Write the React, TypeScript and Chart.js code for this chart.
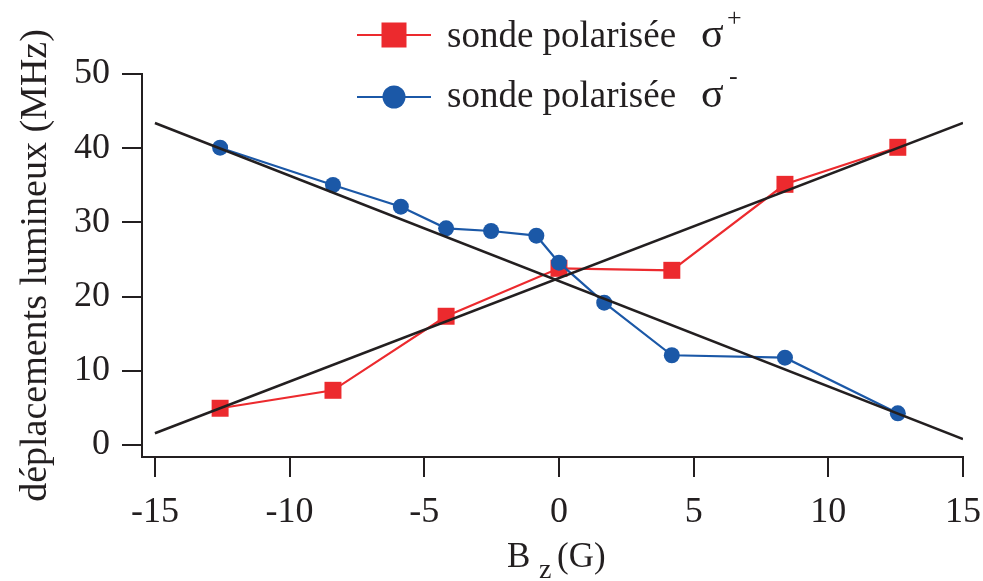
import React, { useEffect, useRef } from "react";
import { Chart, registerables } from "chart.js";

Chart.register(...registerables);

// Data
const sigmaPlusX = [-12.58, -8.39, -4.19, 0, 4.19, 8.39, 12.58];
const sigmaPlusY = [4.95, 7.37, 17.35, 23.81, 23.54, 35.13, 40.12];

const sigmaMinusX = [-12.58, -8.39, -5.87, -4.19, -2.52, -0.84, 0, 1.68, 4.19, 8.39, 12.58];
const sigmaMinusY = [40.07, 35.04, 32.12, 29.2, 28.84, 28.21, 24.57, 19.18, 12.09, 11.77, 4.27];

const fitX = [-15, 15];
const fitPlusY = [1.58, 43.4];
const fitMinusY = [43.4, 0.81];

const xTicks = [-15, -10, -5, 0, 5, 10, 15];
const yTicks = [0, 10, 20, 30, 40, 50];

const legendLabel = "sonde polarisée";
const xTitle = "B";
const xTitleSub = "z";
const xTitleUnit = "(G)";
const yTitle = "déplacements lumineux (MHz)";

const RED = "#ec2a2e";
const BLUE = "#1b58a7";
const BLACK = "#231f20";
const SERIF = "'Liberation Serif', 'Times New Roman', serif";

const zip = (xs: number[], ys: number[]) => xs.map((x, i) => ({ x, y: ys[i] }));

const overlayPlugin = {
  id: "overlay",
  afterDraw(chart: any) {
    const ctx = chart.ctx as CanvasRenderingContext2D;
    ctx.save();
    ctx.fillStyle = BLACK;
    ctx.textBaseline = "alphabetic";

    // Legend row 1
    ctx.strokeStyle = RED;
    ctx.lineWidth = 2;
    ctx.beginPath();
    ctx.moveTo(357, 35);
    ctx.lineTo(431, 35);
    ctx.stroke();
    ctx.fillStyle = RED;
    ctx.fillRect(394 - 12.5, 35 - 12.5, 25, 25);

    // Legend row 2
    ctx.strokeStyle = BLUE;
    ctx.beginPath();
    ctx.moveTo(357, 97);
    ctx.lineTo(431, 97);
    ctx.stroke();
    ctx.fillStyle = BLUE;
    ctx.beginPath();
    ctx.arc(394, 97, 11.5, 0, Math.PI * 2);
    ctx.fill();

    ctx.fillStyle = BLACK;
    ctx.textAlign = "left";
    ctx.font = `37px ${SERIF}`;
    ctx.fillText(legendLabel, 447, 47);
    ctx.fillText(legendLabel, 447, 107);
    ctx.font = `42px ${SERIF}`;
    ctx.fillText("σ", 701, 47);
    ctx.fillText("σ", 701, 107);
    ctx.font = `26px ${SERIF}`;
    ctx.fillText("+", 727, 26);
    ctx.fillText("-", 729, 84);

    // X title
    ctx.font = `35px ${SERIF}`;
    ctx.fillText(xTitle, 507, 567);
    ctx.font = `28px ${SERIF}`;
    ctx.fillText(xTitleSub, 539, 578);
    ctx.font = `35px ${SERIF}`;
    ctx.fillText(xTitleUnit, 557, 567);

    // Y title
    ctx.translate(46, 265.5);
    ctx.rotate(-Math.PI / 2);
    ctx.textAlign = "center";
    ctx.font = `38px ${SERIF}`;
    ctx.fillText(yTitle, 0, 0);
    ctx.restore();
  },
};

export default function App() {
  const ref = useRef<HTMLCanvasElement | null>(null);

  useEffect(() => {
    document.body.style.margin = "0";
    const canvas = ref.current;
    if (!canvas) return;
    const chart = new Chart(canvas, {
      type: "scatter",
      data: {
        datasets: [
          {
            label: "fit +",
            data: zip(fitX, fitPlusY),
            showLine: true,
            borderColor: BLACK,
            borderWidth: 2.5,
            pointRadius: 0,
          },
          {
            label: "fit -",
            data: zip(fitX, fitMinusY),
            showLine: true,
            borderColor: BLACK,
            borderWidth: 2.5,
            pointRadius: 0,
          },
          {
            label: "sonde polarisée σ-",
            data: zip(sigmaMinusX, sigmaMinusY),
            showLine: true,
            borderColor: BLUE,
            backgroundColor: BLUE,
            borderWidth: 2.2,
            pointStyle: "circle",
            pointRadius: 8,
            pointBorderWidth: 0,
          },
          {
            label: "sonde polarisée σ+",
            data: zip(sigmaPlusX, sigmaPlusY),
            showLine: true,
            borderColor: RED,
            backgroundColor: RED,
            borderWidth: 2.2,
            pointStyle: "rect",
            pointRadius: 12,
            pointBorderWidth: 0,
          },
        ],
      },
      options: {
        responsive: false,
        animation: false,
        layout: { padding: { top: 74, right: 20, bottom: 0, left: 0 } },
        plugins: { legend: { display: false }, tooltip: { enabled: false } },
        scales: {
          x: {
            type: "linear",
            min: -15.48,
            max: 15,
            afterBuildTicks: (scale: any) => {
              scale.ticks = xTicks.map((v) => ({ value: v }));
            },
            afterFit: (scale: any) => {
              scale.height = 124;
              scale.paddingLeft = 0;
              scale.paddingRight = 0;
            },
            grid: {
              drawOnChartArea: false,
              drawTicks: true,
              tickLength: 20,
              color: BLACK,
              lineWidth: 2,
            },
            border: { display: true, color: BLACK, width: 2 },
            ticks: {
              autoSkip: false,
              maxRotation: 0,
              padding: 14,
              color: BLACK,
              font: { family: SERIF, size: 36 },
            },
          },
          y: {
            type: "linear",
            min: -1.62,
            max: 50,
            afterBuildTicks: (scale: any) => {
              scale.ticks = yTicks.map((v) => ({ value: v }));
            },
            afterFit: (scale: any) => {
              scale.width = 142;
              scale.paddingTop = 0;
              scale.paddingBottom = 0;
            },
            grid: {
              drawOnChartArea: false,
              drawTicks: true,
              tickLength: 20,
              color: BLACK,
              lineWidth: 2,
            },
            border: { display: true, color: BLACK, width: 2 },
            ticks: {
              autoSkip: false,
              padding: 12,
              color: BLACK,
              font: { family: SERIF, size: 36 },
            },
          },
        },
      },
      plugins: [overlayPlugin],
    } as any);
    return () => chart.destroy();
  }, []);

  return (
    <div style={{ position: "fixed", left: 0, top: 0, width: 983, height: 581, background: "#fff" }}>
      <canvas ref={ref} width={983} height={581} style={{ display: "block" }} />
    </div>
  );
}
